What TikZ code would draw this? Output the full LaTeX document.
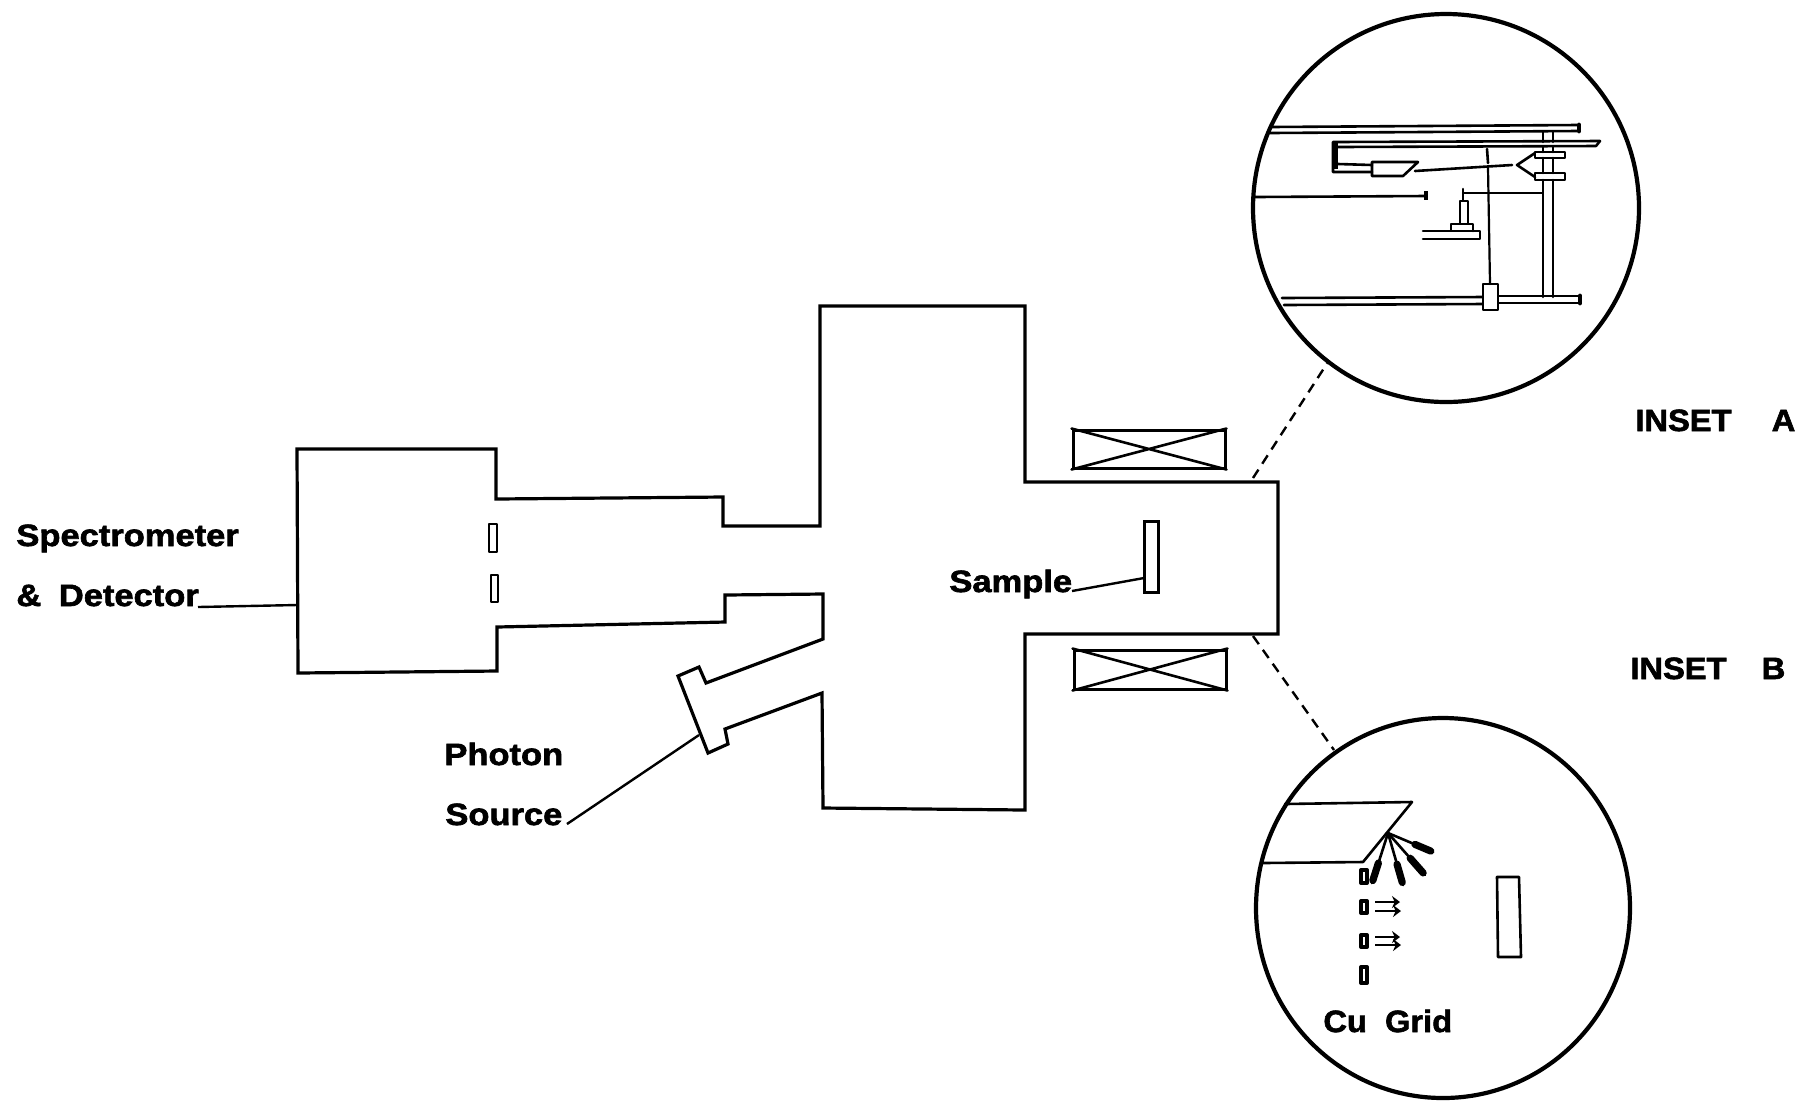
\documentclass[tikz,border=0pt]{standalone}
\usepackage{fontspec}
\usetikzlibrary{calc,arrows.meta}
\newfontfamily\lblfont[FakeBold=2,FakeStretch=1.12]{Liberation Sans Bold}
\newfontfamily\capfont[FakeBold=2,FakeStretch=1.06]{Liberation Sans Bold}
\begin{document}
\begin{tikzpicture}[x=0.5pt,y=-0.5pt,
  wall/.style={line width=1.6pt,line join=miter,line cap=round},
  thin wall/.style={line width=1.3pt,line cap=round,line join=round},
  fine/.style={line width=1.1pt,line cap=round},
  ring/.style={line width=2.1pt},
  leader/.style={line width=1.2pt},
  dashline/.style={line width=1.2pt,dash pattern=on 5pt off 3.5pt},
  lbl/.style={anchor=base west,inner sep=0pt,font=\lblfont\fontsize{15.4pt}{18pt}\selectfont},
  cap lbl/.style={anchor=base west,inner sep=0pt,font=\capfont\fontsize{15.4pt}{18pt}\selectfont},
  ray/.style={line width=1.3pt,line cap=round},
  bulb/.style={line width=3.6pt,line cap=round},
  minihead/.style={line width=1.3pt,-{Stealth[length=4pt,width=6pt]}}]
\useasboundingbox (0,0) rectangle (1803,1100);

% main chamber outline
\draw[wall] (496,449) -- (297,449) -- (298,673) -- (497,671) -- (497,627) -- (725,622) -- (725,595) -- (823,594) -- (823,639) -- (706,683) -- (699,667) -- (678,676) -- (708,753) -- (728,744) -- (725,729) -- (822,693) -- (823,808) -- (1025,810) -- (1025,634) -- (1278,634) -- (1278,482) -- (1025,482) -- (1025,306) -- (820,306) -- (820,526) -- (723,526) -- (723,497) -- (496,499) -- cycle;
\draw[thin wall] (489,524) rectangle (497,552);
\draw[thin wall] (491,575) rectangle (498,602);

% sample and coils
\node[draw,line width=1.5pt,minimum width=7pt,minimum height=35.5pt,inner sep=0pt] (sample) at (1151,556.5) {};
\node[draw,line width=1.5pt,minimum width=76pt,minimum height=19pt,inner sep=0pt] (coilA) at (1149,449) {};
\node[draw,line width=1.5pt,minimum width=76pt,minimum height=19.5pt,inner sep=0pt] (coilB) at (1150,669.5) {};
\draw[thin wall] (coilA.north west) -- (coilA.south east) (coilA.south west) -- (coilA.north east);
\draw[thin wall] (coilB.north west) -- (coilB.south east) (coilB.south west) -- (coilB.north east);

% labels
\node[lbl] (spec) at (16,546) {Spectrometer};
\node[lbl] (det) at (16,606) {\&\hspace{4pt} Detector};
\node[lbl] (samp) at (949,592) {Sample};
\node[lbl] (phot) at (444,765) {Photon};
\node[lbl] (src) at (445,825) {Source};
\node[cap lbl] (insa) at (1635,431) {INSET\ \ \ \hspace{6.5pt}A};
\node[cap lbl] (insb) at (1630,679) {INSET\ \ \ \hspace{4pt}B};
\node[cap lbl] (cu) at (1323,1032) {Cu\ \ Grid};

% leaders
\coordinate (specend) at (297,605);
\coordinate (detstart) at (198,607);
\coordinate (sampstart) at (1072,591);
\coordinate (sampend) at (1144,578);
\coordinate (srcstart) at (567,824);
\coordinate (srcend) at (699,735);
\draw[leader] (detstart) -- (specend);
\draw[leader] (sampstart) -- (sampend);
\draw[leader] (srcstart) -- (srcend);

% dashed zoom lines
\coordinate (dA1) at (1253,478);
\coordinate (dA2) at (1328,362);
\coordinate (dB1) at (1253,636);
\coordinate (dB2) at (1334,750);
\draw[dashline] (dA1) -- (dA2);
\draw[dashline] (dB1) -- (dB2);

% circles
\draw[ring] (1446,208) ellipse [x radius=193,y radius=194];
\draw[ring] (1443,908) ellipse [x radius=187,y radius=190];

% inset A
\draw[thin wall] (1270,127) -- (1577,125) (1270,133) -- (1577,131);
\draw[line width=2.4pt,line cap=round] (1579,125) -- (1579,131);
\draw[thin wall] (1600,141) -- (1333,142) -- (1333,172) -- (1372,172);
\draw[line width=2.4pt] (1335.5,143) -- (1335.5,169);
\draw[thin wall] (1338,164) -- (1372,165);
\draw[thin wall] (1338,147) -- (1596,146) -- (1600,141);
\draw[thin wall] (1372,162) -- (1418,162) -- (1403,176) -- (1372,176) -- cycle;
\draw[thin wall] (1415,171) -- (1512,165);
\draw[thin wall] (1535,153) -- (1517,165) -- (1535,177);
\draw[thin wall] (1535,152) rectangle (1565,158);
\draw[thin wall] (1535,173) rectangle (1565,180);
\draw[thin wall] (1543,132) -- (1543,142) (1553,132) -- (1553,142);
\draw[thin wall] (1543,147) -- (1543,152) (1553,147) -- (1553,152);
\draw[thin wall] (1543,158) -- (1543,173) (1553,158) -- (1553,173);
\draw[thin wall] (1543,180) -- (1543,297) (1553,180) -- (1553,297);
\draw[thin wall] (1282,298) -- (1483,297);
\draw[thin wall] (1284,305) -- (1483,304);
\draw[thin wall] (1498,296) -- (1578,296) (1498,303) -- (1578,303);
\draw[line width=2.4pt,line cap=round] (1580,296) -- (1580,303);
\draw[thin wall,fill=white] (1483,284) rectangle (1498,310);
\draw[fine] (1488,168) -- (1490,284);
\draw[fine,line width=1.3pt] (1487,149) -- (1488,163);
\draw[thin wall] (1255,197) -- (1425,196);
\draw[line width=2.4pt] (1426,191) -- (1426,200);
\draw[fine] (1463,193) -- (1542,193);
\draw[thin wall] (1463,189) -- (1463,200);
\draw[thin wall] (1460,223) -- (1460,201) -- (1468,201) -- (1468,223);
\draw[thin wall] (1451,230) -- (1451,224) -- (1473,224) -- (1473,231);
\draw[thin wall] (1423,231) -- (1480,231) -- (1480,239) -- (1423,239);

% inset B
\draw[thin wall] (1285,804) -- (1412,802) -- (1363,862) -- (1263,863);
\coordinate (fan) at (1388,833);
\foreach \tx/\ty in {1433/852,1425/875,1403/885,1372/883}{
  \coordinate (tip) at (\tx,\ty);
  \draw[ray] (fan) -- (tip);
  \draw[bulb] ($(fan)!0.6!(tip)$) -- ($(fan)!0.95!(tip)$);
}
\foreach \ya/\yb in {870/883,901/913,935/947,967/983}{
  \draw[line width=2pt,line join=round] (1361,\ya) rectangle (1367,\yb);
}
\foreach \ya/\yb in {902/911,937/945}{
  \draw[minihead] (1375,\ya) -- (1400,\ya);
  \draw[minihead] (1375,\yb) -- (1401,\yb);
}
\draw[thin wall] (1497,877) -- (1519,877) -- (1521,957) -- (1498,957) -- cycle;
\end{tikzpicture}
\end{document}
